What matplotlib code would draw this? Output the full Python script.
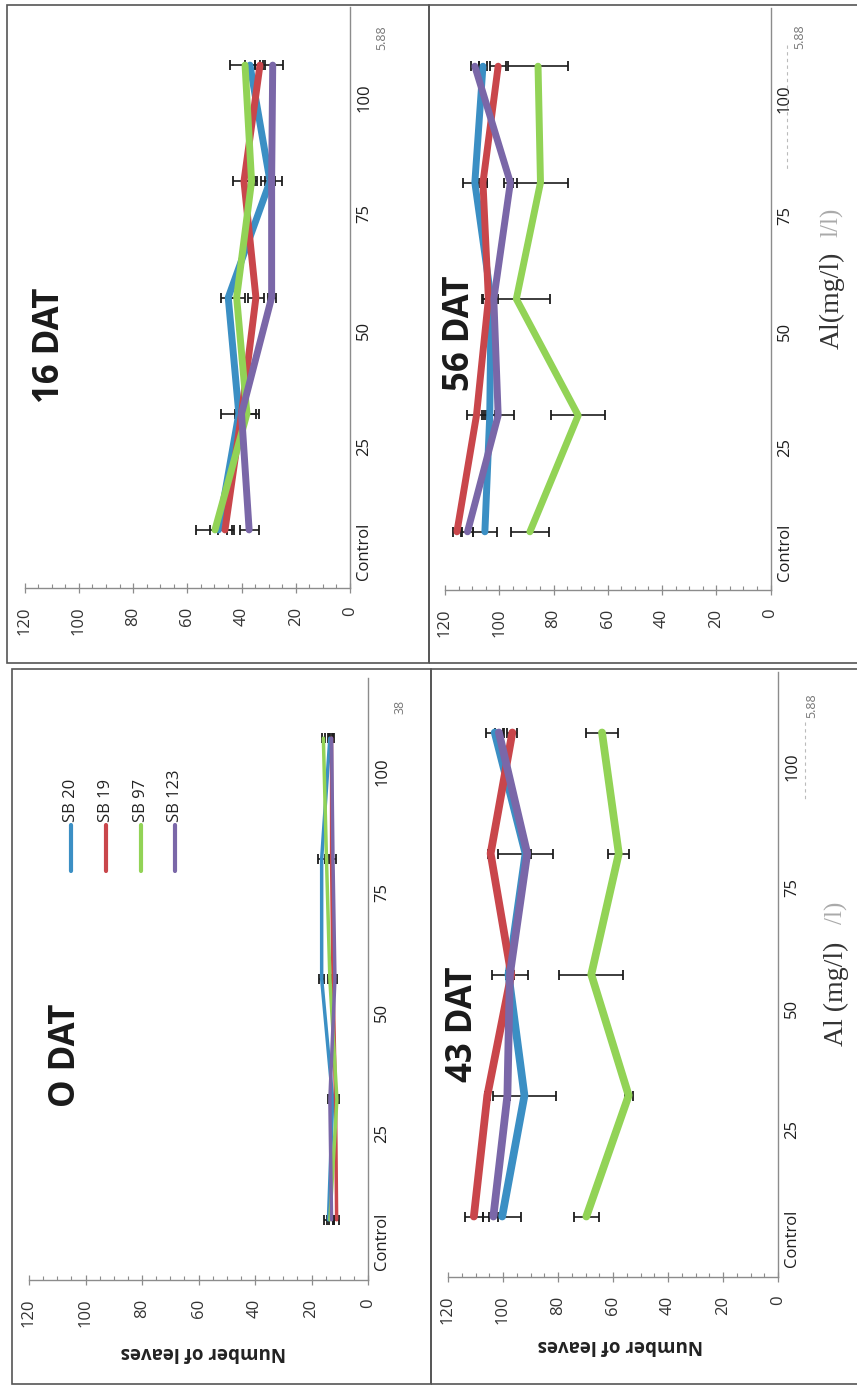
import matplotlib
matplotlib.use('Agg')
import matplotlib.pyplot as plt
from matplotlib.ticker import MultipleLocator
from matplotlib.patches import Rectangle
from matplotlib.lines import Line2D

plt.rcParams['font.family'] = ['Open Sans', 'DejaVu Sans']

# categories (Al dose) and lines
categories = ['Control', '25', '50', '75', '100']
series = ['SB 20', 'SB 19', 'SB 97', 'SB 123']
colors = ['#3b8fc4', '#c9464b', '#92d356', '#7a67a8']

# number of leaves, rows = SB 20, SB 19, SB 97, SB 123
means_0dat = [[14.0, 12.5, 16.4, 16.4, 13.5],
              [11.1, 11.5, 12.4, 12.9, 12.9],
              [13.5, 11.0, 13.5, 14.7, 15.8],
              [12.9, 13.5, 11.7, 12.4, 12.9]]
err_0dat = [[1.5, 0.8, 1.0, 1.2, 0.8],
            [1.0, 0.6, 0.6, 0.6, 0.6],
            [1.0, 0.6, 0.6, 0.6, 0.6],
            [1.0, 0.6, 0.6, 1.2, 1.0]]

means_16dat = [[48.5, 41.0, 44.9, 29.5, 36.9],
               [46.1, 40.0, 34.7, 39.1, 33.2],
               [49.8, 38.0, 41.8, 36.3, 38.7],
               [37.2, 40.0, 28.9, 28.9, 28.5]]
err_16dat = [[3.0, 6.5, 2.5, 2.0, 2.0],
             [2.5, 2.0, 3.0, 4.0, 2.0],
             [7.0, 4.5, 3.0, 2.0, 5.6],
             [3.5, 1.5, 1.5, 4.0, 3.7]]

means_43dat = [[100.3, 92.2, 98.0, 91.8, 103.0],
               [110.6, 105.7, 97.0, 104.5, 96.6],
               [69.7, 54.3, 67.9, 57.9, 64.0],
               [103.5, 98.4, 97.5, 91.2, 101.5]]
err_43dat = [[7.0, 11.6, 1.0, 10.0, 3.3],
             [3.3, 1.0, 1.0, 1.0, 1.8],
             [4.6, 1.5, 11.7, 3.8, 5.9],
             [1.5, 1.0, 6.5, 1.2, 1.5]]

means_56dat = [[105.3, 103.5, 103.0, 109.0, 106.0],
               [115.6, 108.4, 104.0, 106.0, 100.4],
               [88.7, 70.9, 93.7, 84.8, 85.7],
               [111.7, 100.4, 102.0, 95.9, 109.0]]
err_56dat = [[4.5, 2.0, 1.5, 4.5, 1.5],
             [1.5, 3.5, 2.0, 1.5, 3.0],
             [7.0, 10.0, 12.5, 10.0, 11.0],
             [2.0, 6.0, 1.5, 2.5, 1.5]]

W, H = 857, 1388
fig = plt.figure(figsize=(W / 100, H / 100), dpi=100)
fig.patch.set_facecolor('white')


def fp(x, y):
    # pixel position -> figure fraction
    return x / W, 1 - y / H


def panel(means, errs, left, right, top, bottom, lw):
    ax = fig.add_axes([left / W, 1 - bottom / H, (right - left) / W, (bottom - top) / H])
    ax.patch.set_alpha(0)
    pos = list(range(len(categories)))
    for i in range(len(series)):
        ax.errorbar(means[i], pos, xerr=errs[i], fmt='none', ecolor='#1c1c1c',
                    elinewidth=1.2, capsize=3.6, capthick=1.3, zorder=2)
    for i in range(len(series)):
        ax.plot(means[i], pos, color=colors[i], lw=lw, solid_joinstyle='round',
                solid_capstyle='round', zorder=3)
    ax.set_xlim(120, 0)
    ax.set_ylim(-0.5, 4.5)
    for s in ['top', 'left']:
        ax.spines[s].set_visible(False)
    for s in ['bottom', 'right']:
        ax.spines[s].set_color('#8c8c8c')
        ax.spines[s].set_linewidth(1.0)
    ax.xaxis.set_major_locator(MultipleLocator(20))
    ax.xaxis.set_minor_locator(MultipleLocator(5))
    ax.tick_params(axis='x', which='major', direction='inout', length=6.5, width=0.9,
                   color='#8c8c8c', labelsize=12, labelcolor='#333333', labelrotation=90, pad=10)
    ax.tick_params(axis='x', which='minor', direction='in', length=3, width=0.8, color='#8c8c8c')
    # category labels sit a little below their points, as in the original
    offs = [0.18, 0.28, 0.28, 0.28, 0.28]
    ax.yaxis.tick_right()
    ax.set_yticks([p - o for p, o in zip(pos, offs)])
    ax.set_yticklabels(categories, rotation=90, va='center')
    ax.tick_params(axis='y', length=0, pad=4.5, labelsize=12, labelcolor='#1e1e1e')
    return ax


ax16 = panel(means_16dat, err_16dat, 24.6, 350, 7, 588, 5.0)
ax56 = panel(means_56dat, err_56dat, 445, 770.5, 8, 590, 5.0)
ax0 = panel(means_0dat, err_0dat, 29, 368, 678, 1280, 2.5)
ax43 = panel(means_43dat, err_43dat, 448, 778, 672, 1277, 5.6)

# panel frames
for (x0, y0, x1, y1) in [(7, 5, 429, 663), (429, 5, 870, 663),
                         (12, 669, 431, 1384), (431, 669, 870, 1384)]:
    fig.add_artist(Rectangle(fp(x0, y1), (x1 - x0) / W, (y1 - y0) / H, fill=False,
                             edgecolor='#555555', lw=1.2, transform=fig.transFigure))

# titles
for txt, (x, y) in [('16 DAT', (50, 345)), ('56 DAT', (460, 333)),
                    ('O DAT', (66, 1055)), ('43 DAT', (463, 1024))]:
    fig.text(*fp(x, y), txt, rotation=90, ha='center', va='center',
             fontsize=25, fontweight='bold', color='#1a1a1a')

# legend inside the 0 DAT panel
for i, name in enumerate(series):
    x = 71 + i * 34.8
    fig.add_artist(Line2D([x / W, x / W], [1 - 825 / H, 1 - 871 / H], color=colors[i],
                          lw=3, solid_capstyle='round', transform=fig.transFigure))
    fig.text(*fp(x, 822), name, rotation=90, ha='center', va='bottom',
             fontsize=12, color='#222222')

# value axis titles (upside down in the scan)
for x, y in [(203, 1352), (620, 1345)]:
    fig.text(*fp(x, y), 'Number of leaves', rotation=180, ha='center', va='center',
             fontsize=13.5, fontweight='bold', color='#222222')

# dose axis titles, partly faded in the scan
fig.text(*fp(832, 300), 'Al(mg/l)', rotation=90, ha='center', va='center',
         fontsize=20, family='Liberation Serif', color='#333333')
fig.text(*fp(832, 222), 'l/l)', rotation=90, ha='center', va='center',
         fontsize=18, family='Liberation Serif', color='#aaaaaa')
fig.text(*fp(836, 994), 'Al (mg/l)', rotation=90, ha='center', va='center',
         fontsize=20, family='Liberation Serif', color='#333333')
fig.text(*fp(836, 913), '/l)', rotation=90, ha='center', va='center',
         fontsize=18, family='Liberation Serif', color='#aaaaaa')

# leftover label fragments
for txt, (x, y) in [('5.88', (382, 38)), ('5.88', (800, 37)),
                    ('5.88', (812, 706)), ('38', (400, 707))]:
    fig.text(*fp(x, y), txt, rotation=90, ha='center', va='center',
             fontsize=9, color='#777777')
for x, y0, y1 in [(787, 45, 170), (805, 722, 800)]:
    fig.add_artist(Line2D([x / W, x / W], [1 - y0 / H, 1 - y1 / H], color='#bbbbbb',
                          lw=0.8, ls=(0, (3, 3)), transform=fig.transFigure))

fig.savefig('out.png', dpi=100)
